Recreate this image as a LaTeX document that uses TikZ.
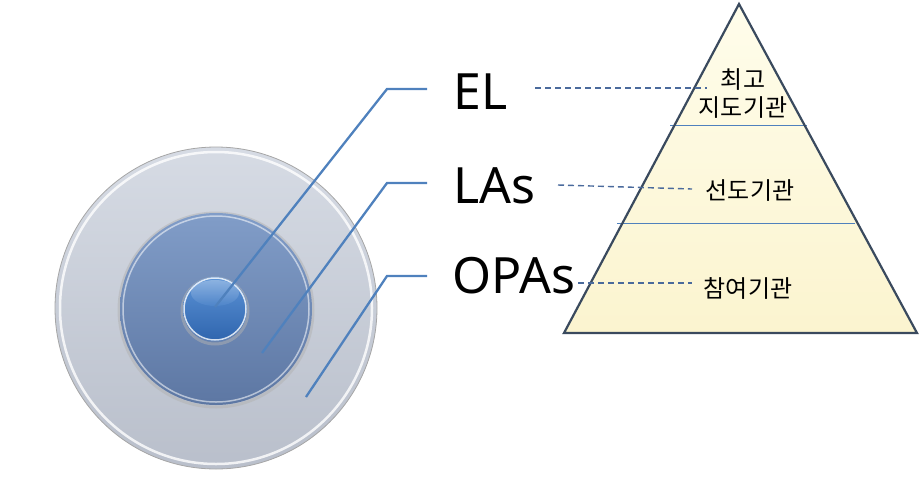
\documentclass[tikz,border=0pt]{standalone}
\usepackage{fontspec}
\setmainfont{Noto Sans}
\newfontfamily\kr{Noto Sans CJK KR}
\definecolor{conn}{HTML}{4F81BD}
\definecolor{dashc}{HTML}{4A6A9C}
\definecolor{pyrborder}{HTML}{3A4A5E}
\definecolor{outerTop}{HTML}{D6DBE4}
\definecolor{outerBot}{HTML}{B9BFCB}
\definecolor{midTop}{HTML}{819DC8}
\definecolor{midBot}{HTML}{5D77A3}
\definecolor{inTop}{HTML}{5C93D6}
\definecolor{inBot}{HTML}{2F65AE}
\definecolor{pyrTop}{HTML}{FFFDEB}
\definecolor{pyrBot}{HTML}{FBF4CF}
\tikzset{
  connector/.style={draw=conn, line width=2.3pt},
  dashlink/.style={draw=dashc, line width=1.4pt, dash pattern=on 6pt off 4pt},
  biglabel/.style={font=\fontsize{50}{60}\selectfont, anchor=base west, inner sep=0pt},
  krlabel/.style={font=\kr\fontsize{24}{28}\selectfont, align=center, inner sep=0pt},
  divider/.style={draw=conn, line width=0.9pt},
}
\begin{document}
\begin{tikzpicture}[x=1pt,y=-1pt]
\useasboundingbox (0,0) rectangle (921,480);
% ---- concentric circles
\coordinate (cc) at (216,308);
\shade[top color=outerTop, bottom color=outerBot] (cc) circle[radius=161pt];
\draw[draw=white, opacity=0.8, line width=2.5pt] (cc) circle[radius=156pt];
\draw[draw=gray!70, line width=0.8pt] (cc) circle[radius=161pt];
\node[circle, minimum size=322pt, inner sep=0pt] (outer) at (cc) {};
% middle
\draw[draw=gray!60, line width=3pt, opacity=0.5] (216,310) circle[radius=97pt];
\shade[top color=midTop, bottom color=midBot] (216,309) circle[radius=96pt];
\draw[draw=white, opacity=0.55, line width=1.5pt] (216,309) circle[radius=93pt];
\node[circle, minimum size=192pt, inner sep=0pt] (middle) at (216,309) {};
% inner
\draw[draw=gray!60, line width=3pt, opacity=0.5] (215,311) circle[radius=33pt];
\shade[top color=inTop, bottom color=inBot] (215,309) circle[radius=32pt];
\draw[draw=white, opacity=0.8, line width=1.5pt] (215,309) circle[radius=31pt];
\shade[top color=white, bottom color=inTop, opacity=0.3] (215,293) ellipse[x radius=24pt, y radius=13pt];
\node[circle, minimum size=64pt, inner sep=0pt] (inner) at (215,309) {};
% ---- labels
\node[biglabel] (EL) at (453,109) {EL};
\node[biglabel] (LAs) at (453,203) {LAs};
\node[biglabel] (OPAs) at (452,293) {OPAs};
% ---- connectors
\coordinate (elPt) at (215,307);
\coordinate (laPt) at (262,353);
\coordinate (opPt) at (306,397);
\coordinate (elEnd) at (427,89);
\coordinate (laEnd) at (427,183);
\coordinate (opEnd) at (427,276);
\draw[connector] (elPt) -- (387,89) -- (elEnd);
\draw[connector] (laPt) -- (387,183) -- (laEnd);
\draw[connector] (opPt) -- (387,276) -- (opEnd);
% ---- pyramid
\coordinate (apex) at (739,4);
\coordinate (bl) at (564,333);
\coordinate (br) at (917,333);
\shade[top color=pyrTop, bottom color=pyrBot] (apex) -- (bl) -- (br) -- cycle;
\draw[divider] (670,125) -- (807,125);
\draw[divider] (617,223) -- (855,223);
\draw[draw=pyrborder, line width=2.2pt, line join=miter] (apex) -- (bl) -- (br) -- cycle;
\node[krlabel] (top) at (743,94) {최고\\지도기관};
\node[krlabel] (midL) at (750,191) {선도기관};
\node[krlabel] (botL) at (748,288) {참여기관};
% ---- dashed links
\coordinate (elD) at (535,88);
\coordinate (laD) at (558,185);
\coordinate (opD) at (578,283);
\draw[dashlink] (elD) -- (707,88);
\draw[dashlink] (laD) -- (692,189);
\draw[dashlink] (opD) -- (692,283);
\end{tikzpicture}
\end{document}
